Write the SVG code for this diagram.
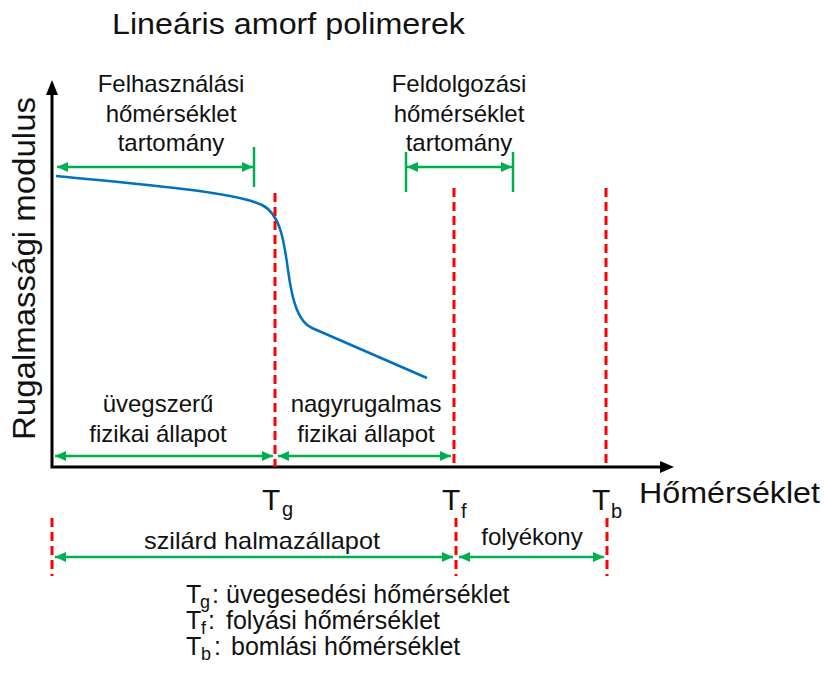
<svg xmlns="http://www.w3.org/2000/svg" width="824" height="675" viewBox="0 0 824 675">
<style>
text{font-family:"Liberation Sans",Arial,sans-serif;fill:#111}
.g{stroke:#00B050;stroke-width:2.5;fill:none}
.ga{stroke:#00B050;stroke-width:2.5;fill:none;marker-start:url(#ah);marker-end:url(#ah)}
.r{stroke:#FF0000;stroke-width:3;stroke-dasharray:9,5;fill:none}
.c{text-anchor:middle;font-size:24px}
</style>
<defs>
<marker id="ah" markerUnits="userSpaceOnUse" markerWidth="12" markerHeight="10" refX="11" refY="5" orient="auto-start-reverse">
<path d="M0,0 L11,5 L0,10 z" fill="#00B050"/>
</marker>
</defs>
<rect width="824" height="675" fill="#fff"/>
<g id="title"><text x="112" y="34" font-size="30" textLength="353" lengthAdjust="spacingAndGlyphs">Lineáris amorf polimerek</text></g>
<g id="axes">
<path d="M52,86 L52,467 L662,467" stroke="#000" stroke-width="3" fill="none"/>
<polygon points="52,80 46,95 58,95" fill="#000"/>
<polygon points="674,467 660,461 660,473" fill="#000"/>
<text transform="translate(35,440) rotate(-90)" font-size="31" textLength="343" lengthAdjust="spacingAndGlyphs">Rugalmassági modulus</text>
<text x="639" y="503" font-size="30" textLength="181" lengthAdjust="spacingAndGlyphs">Hőmérséklet</text>
</g>
<g id="curve"><path d="M56,176 C150,185 235,192 262,205 C280,214 284,240 288,270 C292,300 298,322 312,328 L427,378" stroke="#0070C0" stroke-width="2.5" fill="none"/></g>
<g id="temp-lines">
<line class="r" x1="275" y1="193" x2="275" y2="467"/>
<line class="r" x1="454" y1="188" x2="454" y2="467"/>
<line class="r" x1="606" y1="188" x2="606" y2="467"/>
<line class="r" x1="52" y1="518" x2="52" y2="576"/>
<line class="r" x1="456" y1="518" x2="456" y2="576"/>
<line class="r" x1="607" y1="518" x2="607" y2="576"/>
</g>
<g id="Tg"><text x="262" y="510" font-size="30">T</text><text x="282" y="516" font-size="20">g</text></g>
<g id="Tf"><text x="442" y="510" font-size="30">T</text><text x="461" y="518" font-size="20">f</text></g>
<g id="Tb"><text x="592" y="510" font-size="30">T</text><text x="611" y="518" font-size="20">b</text></g>
<g id="connectors">
<line class="ga" x1="57" y1="167" x2="253" y2="167"/>
<line class="g" x1="254" y1="147" x2="254" y2="187"/>
<line class="ga" x1="407" y1="167" x2="512" y2="167"/>
<line class="g" x1="406" y1="152" x2="406" y2="192"/>
<line class="g" x1="513" y1="152" x2="513" y2="192"/>
<line class="ga" x1="55" y1="456" x2="273" y2="456"/>
<line class="ga" x1="278" y1="456" x2="451" y2="456"/>
<line class="ga" x1="55" y1="557" x2="453" y2="557"/>
<line class="ga" x1="459" y1="557" x2="604" y2="557"/>
</g>
<g id="felhasznalasi">
<text class="c" x="171" y="92">Felhasználási</text>
<text class="c" x="171" y="122">hőmérséklet</text>
<text class="c" x="171" y="151">tartomány</text>
</g>
<g id="feldolgozasi">
<text class="c" x="459" y="92">Feldolgozási</text>
<text class="c" x="459" y="122">hőmérséklet</text>
<text class="c" x="459" y="151">tartomány</text>
</g>
<g id="uvegszeru">
<text class="c" x="158" y="412">üvegszerű</text>
<text class="c" x="158" y="442">fizikai állapot</text>
</g>
<g id="nagyrugalmas">
<text class="c" x="366" y="412">nagyrugalmas</text>
<text class="c" x="366" y="442">fizikai állapot</text>
</g>
<g id="szilard"><text class="c" x="262" y="549" textLength="236" lengthAdjust="spacingAndGlyphs">szilárd halmazállapot</text></g>
<g id="folyekony"><text class="c" x="532" y="545">folyékony</text></g>
<g id="legend" font-size="25">
<text x="186" y="603" font-size="25">T</text><text x="200" y="608" font-size="18">g</text><text x="212" y="603" font-size="25">:</text><text x="226" y="603" font-size="25">üvegesedési hőmérséklet</text>
<text x="186" y="629" font-size="25">T</text><text x="201" y="634" font-size="18">f</text><text x="208" y="629" font-size="25">:</text><text x="226" y="629" font-size="25">folyási hőmérséklet</text>
<text x="186" y="655" font-size="25">T</text><text x="201" y="660" font-size="18">b</text><text x="214" y="655" font-size="25">:</text><text x="231" y="655" font-size="25">bomlási hőmérséklet</text>
</g>
</svg>
